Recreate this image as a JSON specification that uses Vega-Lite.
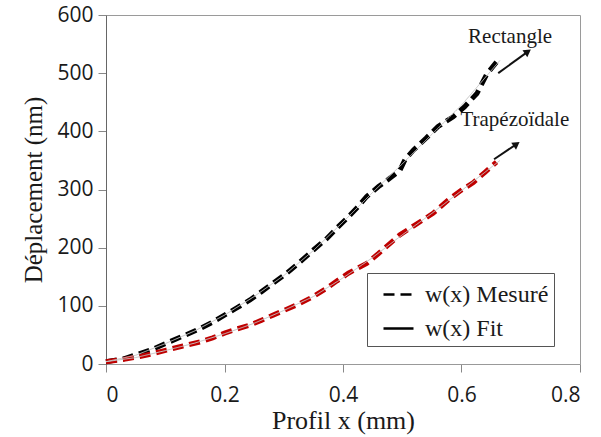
{
  "$schema": "https://vega.github.io/schema/vega-lite/v6.json",
  "width": 474,
  "height": 349,
  "autosize": "none",
  "padding": {"left": 106, "top": 15, "right": 21, "bottom": 73},
  "background": "white",
  "config": {
    "view": {"stroke": "#9a9a9a", "strokeWidth": 1},
    "axis": {"grid": false, "labelFont": "Open Sans", "labelFontSize": 21, "labelColor": "#1a1a1a", "titleFont": "Liberation Serif", "titleFontWeight": "normal", "titleColor": "#1a1a1a", "tickColor": "#888", "domainColor": "#777", "tickSize": 8}
  },
  "datasets": {
    "curves": [
      {"x": 0, "y": 4, "forme": "Rectangle", "type": "w(x) Mesuré"},
      {"x": 0.03, "y": 9, "forme": "Rectangle", "type": "w(x) Mesuré"},
      {"x": 0.057, "y": 18, "forme": "Rectangle", "type": "w(x) Mesuré"},
      {"x": 0.08, "y": 26, "forme": "Rectangle", "type": "w(x) Mesuré"},
      {"x": 0.102, "y": 36, "forme": "Rectangle", "type": "w(x) Mesuré"},
      {"x": 0.13, "y": 48, "forme": "Rectangle", "type": "w(x) Mesuré"},
      {"x": 0.159, "y": 61, "forme": "Rectangle", "type": "w(x) Mesuré"},
      {"x": 0.18, "y": 72, "forme": "Rectangle", "type": "w(x) Mesuré"},
      {"x": 0.2, "y": 84, "forme": "Rectangle", "type": "w(x) Mesuré"},
      {"x": 0.22, "y": 96, "forme": "Rectangle", "type": "w(x) Mesuré"},
      {"x": 0.243, "y": 110, "forme": "Rectangle", "type": "w(x) Mesuré"},
      {"x": 0.262, "y": 124, "forme": "Rectangle", "type": "w(x) Mesuré"},
      {"x": 0.282, "y": 139, "forme": "Rectangle", "type": "w(x) Mesuré"},
      {"x": 0.305, "y": 156, "forme": "Rectangle", "type": "w(x) Mesuré"},
      {"x": 0.327, "y": 175, "forme": "Rectangle", "type": "w(x) Mesuré"},
      {"x": 0.35, "y": 196, "forme": "Rectangle", "type": "w(x) Mesuré"},
      {"x": 0.372, "y": 215, "forme": "Rectangle", "type": "w(x) Mesuré"},
      {"x": 0.39, "y": 234, "forme": "Rectangle", "type": "w(x) Mesuré"},
      {"x": 0.409, "y": 253, "forme": "Rectangle", "type": "w(x) Mesuré"},
      {"x": 0.425, "y": 270, "forme": "Rectangle", "type": "w(x) Mesuré"},
      {"x": 0.44, "y": 288, "forme": "Rectangle", "type": "w(x) Mesuré"},
      {"x": 0.46, "y": 305, "forme": "Rectangle", "type": "w(x) Mesuré"},
      {"x": 0.48, "y": 320, "forme": "Rectangle", "type": "w(x) Mesuré"},
      {"x": 0.496, "y": 333, "forme": "Rectangle", "type": "w(x) Mesuré"},
      {"x": 0.505, "y": 352, "forme": "Rectangle", "type": "w(x) Mesuré"},
      {"x": 0.519, "y": 368, "forme": "Rectangle", "type": "w(x) Mesuré"},
      {"x": 0.54, "y": 388, "forme": "Rectangle", "type": "w(x) Mesuré"},
      {"x": 0.56, "y": 408, "forme": "Rectangle", "type": "w(x) Mesuré"},
      {"x": 0.569, "y": 414, "forme": "Rectangle", "type": "w(x) Mesuré"},
      {"x": 0.586, "y": 425, "forme": "Rectangle", "type": "w(x) Mesuré"},
      {"x": 0.605, "y": 442, "forme": "Rectangle", "type": "w(x) Mesuré"},
      {"x": 0.626, "y": 465, "forme": "Rectangle", "type": "w(x) Mesuré"},
      {"x": 0.643, "y": 499, "forme": "Rectangle", "type": "w(x) Mesuré"},
      {"x": 0.659, "y": 519, "forme": "Rectangle", "type": "w(x) Mesuré"},
      {"x": 0, "y": 4, "forme": "Trapézoïdale", "type": "w(x) Mesuré"},
      {"x": 0.03, "y": 8, "forme": "Trapézoïdale", "type": "w(x) Mesuré"},
      {"x": 0.057, "y": 13, "forme": "Trapézoïdale", "type": "w(x) Mesuré"},
      {"x": 0.08, "y": 18, "forme": "Trapézoïdale", "type": "w(x) Mesuré"},
      {"x": 0.102, "y": 24, "forme": "Trapézoïdale", "type": "w(x) Mesuré"},
      {"x": 0.13, "y": 31, "forme": "Trapézoïdale", "type": "w(x) Mesuré"},
      {"x": 0.159, "y": 38, "forme": "Trapézoïdale", "type": "w(x) Mesuré"},
      {"x": 0.18, "y": 45, "forme": "Trapézoïdale", "type": "w(x) Mesuré"},
      {"x": 0.2, "y": 53, "forme": "Trapézoïdale", "type": "w(x) Mesuré"},
      {"x": 0.22, "y": 60, "forme": "Trapézoïdale", "type": "w(x) Mesuré"},
      {"x": 0.243, "y": 67, "forme": "Trapézoïdale", "type": "w(x) Mesuré"},
      {"x": 0.262, "y": 75, "forme": "Trapézoïdale", "type": "w(x) Mesuré"},
      {"x": 0.282, "y": 84, "forme": "Trapézoïdale", "type": "w(x) Mesuré"},
      {"x": 0.305, "y": 94, "forme": "Trapézoïdale", "type": "w(x) Mesuré"},
      {"x": 0.327, "y": 104, "forme": "Trapézoïdale", "type": "w(x) Mesuré"},
      {"x": 0.35, "y": 116, "forme": "Trapézoïdale", "type": "w(x) Mesuré"},
      {"x": 0.372, "y": 130, "forme": "Trapézoïdale", "type": "w(x) Mesuré"},
      {"x": 0.39, "y": 143, "forme": "Trapézoïdale", "type": "w(x) Mesuré"},
      {"x": 0.409, "y": 156, "forme": "Trapézoïdale", "type": "w(x) Mesuré"},
      {"x": 0.425, "y": 165, "forme": "Trapézoïdale", "type": "w(x) Mesuré"},
      {"x": 0.44, "y": 173, "forme": "Trapézoïdale", "type": "w(x) Mesuré"},
      {"x": 0.46, "y": 190, "forme": "Trapézoïdale", "type": "w(x) Mesuré"},
      {"x": 0.48, "y": 208, "forme": "Trapézoïdale", "type": "w(x) Mesuré"},
      {"x": 0.496, "y": 222, "forme": "Trapézoïdale", "type": "w(x) Mesuré"},
      {"x": 0.52, "y": 238, "forme": "Trapézoïdale", "type": "w(x) Mesuré"},
      {"x": 0.552, "y": 259, "forme": "Trapézoïdale", "type": "w(x) Mesuré"},
      {"x": 0.581, "y": 285, "forme": "Trapézoïdale", "type": "w(x) Mesuré"},
      {"x": 0.6, "y": 299, "forme": "Trapézoïdale", "type": "w(x) Mesuré"},
      {"x": 0.62, "y": 312, "forme": "Trapézoïdale", "type": "w(x) Mesuré"},
      {"x": 0.64, "y": 330, "forme": "Trapézoïdale", "type": "w(x) Mesuré"},
      {"x": 0.659, "y": 347, "forme": "Trapézoïdale", "type": "w(x) Mesuré"},
      {"x": 0, "y": 4, "forme": "Rectangle", "type": "w(x) Fit"},
      {"x": 0.05, "y": 15, "forme": "Rectangle", "type": "w(x) Fit"},
      {"x": 0.1, "y": 35, "forme": "Rectangle", "type": "w(x) Fit"},
      {"x": 0.15, "y": 57, "forme": "Rectangle", "type": "w(x) Fit"},
      {"x": 0.2, "y": 84, "forme": "Rectangle", "type": "w(x) Fit"},
      {"x": 0.25, "y": 116, "forme": "Rectangle", "type": "w(x) Fit"},
      {"x": 0.3, "y": 152, "forme": "Rectangle", "type": "w(x) Fit"},
      {"x": 0.35, "y": 195, "forme": "Rectangle", "type": "w(x) Fit"},
      {"x": 0.4, "y": 244, "forme": "Rectangle", "type": "w(x) Fit"},
      {"x": 0.45, "y": 295, "forme": "Rectangle", "type": "w(x) Fit"},
      {"x": 0.5, "y": 344, "forme": "Rectangle", "type": "w(x) Fit"},
      {"x": 0.55, "y": 395, "forme": "Rectangle", "type": "w(x) Fit"},
      {"x": 0.6, "y": 445, "forme": "Rectangle", "type": "w(x) Fit"},
      {"x": 0.665, "y": 522, "forme": "Rectangle", "type": "w(x) Fit"},
      {"x": 0, "y": 4, "forme": "Trapézoïdale", "type": "w(x) Fit"},
      {"x": 0.05, "y": 11, "forme": "Trapézoïdale", "type": "w(x) Fit"},
      {"x": 0.1, "y": 23, "forme": "Trapézoïdale", "type": "w(x) Fit"},
      {"x": 0.15, "y": 36, "forme": "Trapézoïdale", "type": "w(x) Fit"},
      {"x": 0.2, "y": 52, "forme": "Trapézoïdale", "type": "w(x) Fit"},
      {"x": 0.25, "y": 70, "forme": "Trapézoïdale", "type": "w(x) Fit"},
      {"x": 0.3, "y": 92, "forme": "Trapézoïdale", "type": "w(x) Fit"},
      {"x": 0.35, "y": 116, "forme": "Trapézoïdale", "type": "w(x) Fit"},
      {"x": 0.4, "y": 148, "forme": "Trapézoïdale", "type": "w(x) Fit"},
      {"x": 0.45, "y": 183, "forme": "Trapézoïdale", "type": "w(x) Fit"},
      {"x": 0.5, "y": 222, "forme": "Trapézoïdale", "type": "w(x) Fit"},
      {"x": 0.55, "y": 259, "forme": "Trapézoïdale", "type": "w(x) Fit"},
      {"x": 0.6, "y": 298, "forme": "Trapézoïdale", "type": "w(x) Fit"},
      {"x": 0.665, "y": 350, "forme": "Trapézoïdale", "type": "w(x) Fit"}
    ],
    "arrows": [
      {"x": 0.662, "y": 500, "x2": 0.712, "y2": 537},
      {"x": 0.655, "y": 352, "x2": 0.693, "y2": 378}
    ],
    "labels": [
      {"label": "Rectangle", "x": 0.682, "y": 562},
      {"label": "Trapézoïdale", "x": 0.69, "y": 419}
    ]
  },
  "layer": [
    {
      "data": {"name": "curves"},
      "transform": [{"filter": "datum.type === 'w(x) Mesuré'"}],
      "mark": {"type": "line", "strokeWidth": 5},
      "encoding": {
        "x": {"field": "x", "type": "quantitative", "scale": {"domain": [0, 0.8]}, "axis": {"values": [0, 0.2, 0.4, 0.6, 0.8], "format": "~g", "title": "Profil x (mm)", "titleFontSize": 26, "titlePadding": 2, "labelPadding": 12, "domainColor": "#999"}},
        "y": {"field": "y", "type": "quantitative", "scale": {"domain": [0, 600]}, "axis": {"values": [0, 100, 200, 300, 400, 500, 600], "title": "Déplacement (nm)", "titleFontSize": 25, "titlePadding": 10, "labelPadding": 5, "domainColor": "#666"}},
        "detail": {"field": "forme"},
        "color": {"field": "forme", "type": "nominal", "scale": {"domain": ["Rectangle", "Trapézoïdale"], "range": ["#000000", "#c00000"]}, "legend": null},
        "strokeDash": {"field": "type", "type": "nominal", "scale": {"domain": ["w(x) Mesuré", "w(x) Fit"], "range": [[11, 6], [1, 0]]},
          "legend": {"title": null, "orient": "none", "legendX": 261, "legendY": 258, "labelFont": "Liberation Serif", "labelFontSize": 24, "labelColor": "#1a1a1a", "symbolType": "stroke", "symbolSize": 900, "fillColor": "white", "strokeColor": "#555", "padding": 5, "rowPadding": 5, "symbolOffset": 10, "labelOffset": 10,
            "encode": {"symbols": {"update": {"stroke": {"value": "#000"}, "strokeWidth": {"value": 2.5}, "opacity": {"value": 1}}}}}}
      }
    },
    {
      "data": {"name": "curves"},
      "transform": [{"filter": "datum.type === 'w(x) Fit'"}],
      "mark": {"type": "line", "strokeWidth": 1, "color": "#c4c4c4"},
      "encoding": {
        "x": {"field": "x", "type": "quantitative"},
        "y": {"field": "y", "type": "quantitative"},
        "detail": {"field": "forme"},
        "strokeDash": {"field": "type", "type": "nominal"}
      }
    },
    {
      "data": {"name": "arrows"},
      "mark": {"type": "rule", "color": "#111", "strokeWidth": 2},
      "encoding": {
        "x": {"field": "x", "type": "quantitative"},
        "y": {"field": "y", "type": "quantitative"},
        "x2": {"field": "x2"},
        "y2": {"field": "y2"}
      }
    },
    {
      "data": {"name": "arrows"},
      "mark": {"type": "point", "shape": "triangle-up", "filled": true, "color": "#111", "size": 70, "angle": 55, "opacity": 1},
      "encoding": {
        "x": {"field": "x2", "type": "quantitative"},
        "y": {"field": "y2", "type": "quantitative"}
      }
    },
    {
      "data": {"name": "labels"},
      "mark": {"type": "text", "font": "Liberation Serif", "fontSize": 21, "color": "#1a1a1a"},
      "encoding": {
        "x": {"field": "x", "type": "quantitative"},
        "y": {"field": "y", "type": "quantitative"},
        "text": {"field": "label"}
      }
    }
  ]
}
